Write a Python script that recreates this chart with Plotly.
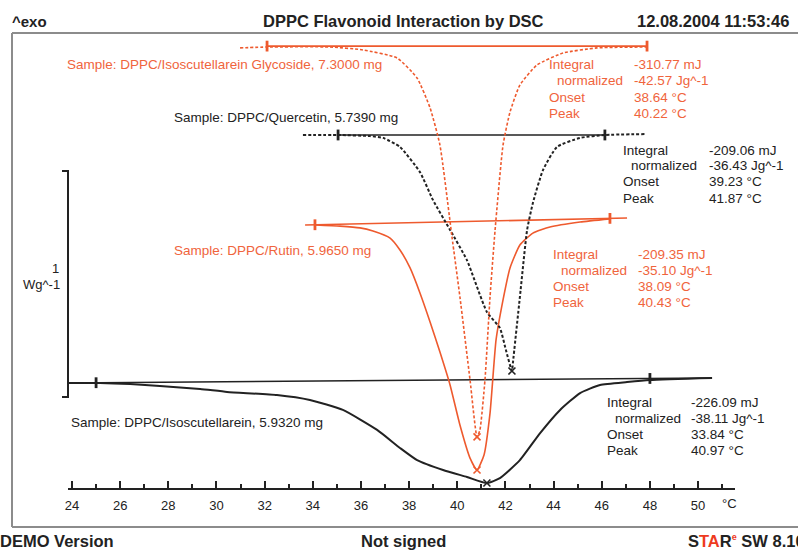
import numpy as np
import plotly.graph_objects as go

# ---------------- data ----------------
# temperatures in degC, heat flow in W/g (curves are vertically offset as displayed)

# Sample: DPPC/Isoscutellarein Glycoside, 7.3000 mg  (red dashed)
gly_T = [30.98, 32.10, 34.71, 36.08, 37.50, 38.33, 38.87, 39.28, 39.78, 40.11, 40.53, 40.82,
         40.94, 41.15, 41.36, 41.57, 41.90, 42.19, 42.60, 43.31, 44.39, 45.80, 47.88]
gly_HF = [1.956, 1.960, 1.960, 1.947, 1.911, 1.822, 1.689, 1.524, 1.116, 0.849, 0.480, 0.227,
          0.258, 0.480, 0.849, 1.147, 1.524, 1.671, 1.791, 1.880, 1.933, 1.956, 1.960]
gly_base_T = [32.10, 47.88]
gly_base_HF = [1.964, 1.964]
gly_peak = [40.82, 0.227]

# Sample: DPPC/Quercetin, 5.7390 mg  (black dashed)
que_T = [33.59, 35.05, 36.38, 36.92, 37.62, 38.45, 38.99, 39.70, 40.40, 41.23, 41.77, 42.02, 42.27,
         42.31, 42.60, 42.90, 43.14, 43.56, 44.14, 45.10, 46.13, 47.80]
que_HF = [1.569, 1.569, 1.564, 1.556, 1.516, 1.404, 1.280, 1.147, 1.013, 0.782, 0.711, 0.613, 0.520,
          0.556, 0.849, 1.147, 1.267, 1.413, 1.516, 1.556, 1.569, 1.573]
que_base_T = [35.05, 46.13]
que_base_HF = [1.569, 1.569]
que_peak = [42.27, 0.520]

# Sample: DPPC/Rutin, 5.9650 mg  (red solid)
rut_T = [34.09, 35.13, 35.96, 36.50, 37.21, 37.62, 38.04, 38.45, 38.87, 39.28, 39.70, 40.11, 40.53,
         40.82, 41.11, 41.36, 41.61, 41.90, 42.19, 42.60, 43.14, 43.85, 45.10, 46.34]
rut_HF = [1.169, 1.164, 1.156, 1.142, 1.111, 1.058, 0.978, 0.867, 0.738, 0.604, 0.458, 0.280, 0.133,
          0.080, 0.147, 0.333, 0.658, 0.836, 0.978, 1.080, 1.133, 1.160, 1.182, 1.196]
rut_base_T = [33.68, 47.05]
rut_base_HF = [1.169, 1.200]
rut_limits = [34.09, 46.34]
rut_peak = [40.82, 0.080]

# Sample: DPPC/Isoscutellarein, 5.9320 mg  (black solid)
iso_T = [23.83, 25.16, 26.41, 27.65, 29.32, 30.44, 32.51, 33.88, 35.25, 36.67, 37.62, 38.33, 39.41,
         40.40, 41.23, 41.77, 42.60, 43.44, 44.27, 45.10, 45.93, 47.05, 48.00, 50.58]
iso_HF = [0.467, 0.467, 0.462, 0.453, 0.440, 0.427, 0.413, 0.391, 0.347, 0.258, 0.178, 0.124, 0.080,
          0.049, 0.022, 0.044, 0.124, 0.244, 0.347, 0.422, 0.458, 0.471, 0.480, 0.489]
iso_base_T = [23.83, 50.58]
iso_base_HF = [0.467, 0.489]
iso_limits = [25.0, 48.0]
iso_peak = [41.23, 0.022]

stat_labels = ["Integral", "normalized", "Onset", "Peak"]
gly_stats = ["-310.77 mJ", "-42.57 Jg^-1", "38.64 °C", "40.22 °C"]
que_stats = ["-209.06 mJ", "-36.43 Jg^-1", "39.23 °C", "41.87 °C"]
rut_stats = ["-209.35 mJ", "-35.10 Jg^-1", "38.09 °C", "40.43 °C"]
iso_stats = ["-226.09 mJ", "-38.11 Jg^-1", "33.84 °C", "40.97 °C"]

x_tick_labels = list(range(24, 51, 2))
x_minor_ticks = list(range(25, 52, 2))

# ---------------- styling / layout ----------------
W, H = 798, 551
L, R, TOP, BOT = 68, 735, 33, 488
X0 = 24 + (L - 72) / 24.08
X1 = 24 + (R - 72) / 24.08
Y1 = (BOT - TOP) / 225.0
RED = "#ee5a2e"
REDT = "#f0643c"
BLK = "#222222"
FONT = "Liberation Sans, Arial, sans-serif"
TS = 13.5


def px(x):
    return (x - L) / (R - L)


def py(y):
    return (BOT - y) / (BOT - TOP)


fig = go.Figure()


def curve(T, HF, color, dash, width):
    fig.add_trace(go.Scatter(x=T, y=HF, mode="lines",
                             line=dict(color=color, width=width, dash=dash, shape="spline", smoothing=0.5),
                             hoverinfo="skip", showlegend=False))


def baseline(T, HF, limits, color):
    fig.add_trace(go.Scatter(x=T, y=HF, mode="lines", line=dict(color=color, width=1.6),
                             hoverinfo="skip", showlegend=False))
    xs, ys = [], []
    for t in limits:
        hf = float(np.interp(t, T, HF))
        xs += [t, t, None]
        ys += [hf - 0.024, hf + 0.024, None]
    fig.add_trace(go.Scatter(x=xs, y=ys, mode="lines", line=dict(color=color, width=2.8),
                             hoverinfo="skip", showlegend=False))


def peak(p, color):
    fig.add_trace(go.Scatter(x=[p[0]], y=[p[1]], mode="markers",
                             marker=dict(symbol="x-thin-open", size=7, color=color,
                                         line=dict(color=color, width=1.6)),
                             hoverinfo="skip", showlegend=False))


curve(iso_T, iso_HF, BLK, "solid", 2)
baseline(iso_base_T, iso_base_HF, iso_limits, BLK)
peak(iso_peak, BLK)

curve(rut_T, rut_HF, RED, "solid", 1.6)
baseline(rut_base_T, rut_base_HF, rut_limits, RED)
peak(rut_peak, RED)

curve(que_T, que_HF, BLK, "3px,2px", 2)
baseline(que_base_T, que_base_HF, que_base_T, BLK)
peak(que_peak, BLK)

curve(gly_T, gly_HF, RED, "3px,2px", 1.6)
baseline(gly_base_T, gly_base_HF, gly_base_T, RED)
peak(gly_peak, RED)


def txt(x, y, s, color=BLK, size=TS, anchor="left", bold=False):
    if bold:
        s = "<b>" + s + "</b>"
    fig.add_annotation(x=px(x), y=py(y), xref="paper", yref="paper", text=s, showarrow=False,
                       xanchor=anchor, yanchor="middle", borderpad=0,
                       font=dict(family=FONT, size=size, color=color))


def stats(xl, xv, y0, vals, color):
    for i, (lab, v) in enumerate(zip(stat_labels, vals)):
        txt(xl + (8 if i == 1 else 0), y0 + i * 16, lab, color)
        txt(xv, y0 + i * 16, v, color)


txt(66, 65, "Sample: DPPC/Isoscutellarein Glycoside, 7.3000 mg", REDT)
stats(548, 633, 65, gly_stats, REDT)
txt(173, 117, "Sample: DPPC/Quercetin, 5.7390 mg", BLK)
stats(622, 708, 150, que_stats, BLK)
txt(173, 250, "Sample: DPPC/Rutin, 5.9650 mg", REDT)
stats(552, 637, 254, rut_stats, REDT)
txt(70, 422, "Sample: DPPC/Isoscutellarein, 5.9320 mg", BLK)
stats(606, 690, 402, iso_stats, BLK)

# header / footer
txt(11, 21, "^exo", BLK, 15, bold=True)
txt(403, 21, "DPPC Flavonoid Interaction by DSC", BLK, 16.5, anchor="center", bold=True)
txt(636, 21, "12.08.2004 11:53:46", BLK, 16.5, bold=True)
txt(-1, 541, "DEMO Version", BLK, 16.5, bold=True)
txt(403, 541, "Not signed", BLK, 16.5, anchor="center", bold=True)
txt(806, 541, "S<span style='color:#ee3a1e'>TA</span>R<sup><span style='color:#ee3a1e;font-size:9px'>e</span></sup> SW 8.10",
    BLK, 16.5, anchor="right", bold=True)

# scale bar label and unit
txt(60, 268, "1", BLK, 13, anchor="right")
txt(61, 284, "Wg^-1", BLK, 13, anchor="right")
txt(721, 503, "°C", BLK, 13)

shapes = []
frame = "#8c8c8c"
shapes.append(dict(type="line", xref="paper", yref="paper", x0=px(12), x1=px(800), y0=py(33), y1=py(33),
                   line=dict(color=frame, width=2.2)))
shapes.append(dict(type="line", xref="paper", yref="paper", x0=px(12), x1=px(12), y0=py(33), y1=py(527),
                   line=dict(color=frame, width=2)))
shapes.append(dict(type="line", xref="paper", yref="paper", x0=px(12), x1=px(800), y0=py(527), y1=py(527),
                   line=dict(color=frame, width=2)))
# scale bar (1 W/g)
shapes.append(dict(type="path", xref="paper", yref="paper",
                   path=f"M {px(62)},{py(171)} L {px(68)},{py(171)} L {px(68)},{py(397)} L {px(62)},{py(397)}",
                   line=dict(color=BLK, width=2)))

fig.update_layout(
    width=W, height=H,
    margin=dict(l=L, r=W - R, t=TOP, b=H - BOT, autoexpand=False),
    paper_bgcolor="white", plot_bgcolor="white", showlegend=False,
    shapes=shapes,
    xaxis=dict(range=[X0, X1], tickvals=x_tick_labels, ticktext=[str(v) for v in x_tick_labels],
               ticks="inside", ticklen=7, tickwidth=1.6, tickcolor=BLK, ticklabelstandoff=4,
               showline=True, linecolor=BLK, linewidth=2, showgrid=False, zeroline=False,
               tickfont=dict(family=FONT, size=13, color=BLK), fixedrange=True,
               minor=dict(tickvals=x_minor_ticks, ticks="inside", ticklen=4, tickwidth=1.6,
                          tickcolor=BLK, showgrid=False)),
    yaxis=dict(range=[0, Y1], visible=False, fixedrange=True),
)

fig.write_html("out.html", config={"displayModeBar": False},
               post_script="document.body.style.margin='0';document.body.style.overflow='hidden';")
